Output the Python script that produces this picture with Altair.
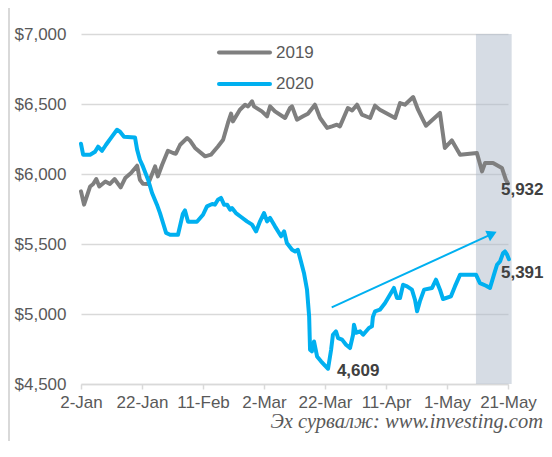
import json
import altair as alt
import pandas as pd

# ---- data ----
days_2019 = [0, 1, 3, 4, 5, 6, 8, 9.5, 11, 13, 14.5, 16.4, 18.4, 19.3, 20.3, 22, 24.3, 25.2, 26.6,
             28.5, 30.2, 31.1, 32.5, 34.8, 35.7, 37.4, 40.7, 42.6, 44.9, 46.6, 48.2, 49.2, 49.8,
             52.1, 53.8, 54.8, 56.1, 56.7, 59.3, 61, 62, 63.6, 66.9, 68.5, 69.2, 70.8, 72.8, 74.4,
             76.7, 78.4, 80.7, 82.3, 83.9, 84.9, 87.5, 88.9, 90.5, 92.1, 94.8, 96.4, 98, 103,
             104.6, 106.2, 108.9, 110.5, 112.1, 113.1, 117.7, 119.3, 121.6, 124.3, 129.8, 131.5,
             132.5, 135.1, 138, 139.3, 140]
values_2019 = [5876, 5781, 5911, 5929, 5964, 5911, 5947, 5929, 5964, 5904, 5971, 6007, 6059, 5959,
               5931, 5929, 6054, 5983, 6066, 6166, 6150, 6145, 6209, 6257, 6240, 6186, 6126, 6138,
               6197, 6245, 6366, 6431, 6376, 6459, 6495, 6483, 6519, 6483, 6447, 6412, 6483, 6447,
               6400, 6471, 6483, 6388, 6412, 6431, 6495, 6400, 6329, 6340, 6352, 6340, 6471, 6454,
               6495, 6424, 6400, 6488, 6459, 6400, 6507, 6495, 6550, 6459, 6388, 6345, 6436, 6186,
               6240, 6138, 6150, 6019, 6079, 6079, 6043, 5959, 5932]

days_2020 = [0, 0.7, 3, 4.6, 5.6, 6.9, 8.2, 10.2, 11.8, 12.8, 14.1, 17.7, 18.4, 19.3, 20.3, 22,
             23.3, 24.9, 25.9, 26.9, 27.9, 29.2, 31.8, 33.4, 34.1, 35.1, 38, 40, 41.3, 43, 43.9,
             44.9, 45.9, 46.9, 47.9, 48.9, 49.5, 50.8, 52.5, 54.4, 56.1, 57.4, 58.7, 60, 61, 62,
             63.6, 65.6, 66.6, 67.5, 69.2, 70.2, 71.1, 72.1, 73.1, 74.1, 74.8, 75.1, 75.7, 76.4,
             77.4, 78.7, 80, 81, 82, 82.6, 83.6, 84.3, 85.6, 86.9, 88.2, 89.2, 89.5, 90.2, 91.5,
             92.5, 94.4, 95.4, 95.7, 96.4, 98, 99.7, 101.3, 102.6, 103.6, 104.6, 105.6, 106.9,
             108.5, 109.5, 110.2, 111.1, 112.5, 115.1, 116.4, 117.7, 118.7, 121.3, 122.6, 124.3,
             129.5, 130.8, 132.8, 134.1, 135.4, 136.4, 137.4, 138.4, 139, 139.7, 140.3]
values_2020 = [6216, 6138, 6138, 6159, 6195, 6166, 6209, 6269, 6316, 6302, 6266, 6261, 6174, 6102,
               6054, 5959, 5864, 5781, 5721, 5650, 5579, 5566, 5566, 5716, 5740, 5659, 5659, 5709,
               5769, 5786, 5781, 5816, 5829, 5781, 5781, 5745, 5757, 5721, 5693, 5662, 5638, 5590,
               5662, 5721, 5662, 5686, 5626, 5555, 5590, 5507, 5459, 5447, 5459, 5376, 5293, 5174,
               4983, 4745, 4733, 4804, 4697, 4662, 4631, 4609, 4745, 4852, 4876, 4828, 4817, 4781,
               4757, 4852, 4924, 4866, 4876, 4852, 4900, 4912, 4979, 5019, 5031, 5079, 5138, 5186,
               5114, 5114, 5209, 5197, 5174, 5102, 5019, 5090, 5174, 5186, 5245, 5174, 5107, 5126,
               5197, 5281, 5281, 5221, 5202, 5186, 5281, 5352, 5376, 5436, 5447, 5424, 5391]

series_names = ["2019", "2020"]
series_colors = ["#7f7f7f", "#00b0f0"]

tick_days = [0, 20, 40, 60, 80, 100, 120, 140]
tick_labels = ["2-Jan", "22-Jan", "11-Feb", "2-Mar", "22-Mar", "11-Apr", "1-May", "21-May"]
y_ticks = [4500, 5000, 5500, 6000, 6500, 7000]

shade_days = [129.5, 141.2]
arrow_days = [82.2, 134.8]
arrow_values = [5047, 5572]

note_texts = ["5,932", "5,391", "4,609"]
note_days = [137.7, 137.7, 83.9]
note_values = [5883, 5293, 4590]

source_text = "Эх сурвалж: www.investing.com"

# ---- tables ----
lines_df = pd.concat([
    pd.DataFrame({"day": days_2019, "value": values_2019, "series": series_names[0]}),
    pd.DataFrame({"day": days_2020, "value": values_2020, "series": series_names[1]}),
])
shade_df = pd.DataFrame({"day": [shade_days[0]], "day2": [shade_days[1]],
                         "value": [y_ticks[0]], "value2": [y_ticks[-1]]})
arrow_df = pd.DataFrame({"day": [arrow_days[0]], "day2": [arrow_days[1]],
                         "value": [arrow_values[0]], "value2": [arrow_values[1]]})
head_df = pd.DataFrame({"day": [arrow_days[1]], "value": [arrow_values[1]]})
notes_df = pd.DataFrame({"day": note_days, "value": note_values, "text": note_texts})

FONT = "Liberation Sans"
label_expr = f"{json.dumps(tick_labels)}[indexof({json.dumps(tick_days)}, datum.value)]"

xscale = alt.Scale(domain=[tick_days[0], tick_days[-1]], nice=False)
yscale = alt.Scale(domain=[y_ticks[0], y_ticks[-1]], nice=False)

x_axis = alt.Axis(values=tick_days, labelExpr=label_expr, grid=False, title=None,
                  tickSize=5, tickColor="#d9d9d9", tickWidth=1.5,
                  domainColor="#d9d9d9", domainWidth=1.5, labelFlush=False, labelOverlap=False,
                  labelColor="#595959", labelFontSize=17, labelFont=FONT, labelPadding=5)
y_axis = alt.Axis(values=y_ticks, format="$,.0f", grid=True, gridColor="#d9d9d9", gridWidth=1.5,
                  domain=False, ticks=False, title=None, labelColor="#595959", labelFontSize=17,
                  labelFont=FONT, labelPadding=15, labelFlush=False, labelOverlap=False)


def X(field="day:Q"):
    return alt.X(field, scale=xscale, axis=x_axis)


def Y(field="value:Q"):
    return alt.Y(field, scale=yscale, axis=y_axis)


shade = alt.Chart(shade_df).mark_rect(fill="#adb9ca", opacity=0.5).encode(
    x=X(), x2="day2:Q", y=Y(), y2="value2:Q")

lines = alt.Chart(lines_df).mark_line(strokeWidth=4, strokeJoin="round", strokeCap="round").encode(
    x=X(), y=Y(),
    color=alt.Color("series:N", scale=alt.Scale(domain=series_names, range=series_colors), legend=None),
    detail="series:N")

arrow = alt.Chart(arrow_df).mark_rule(color=series_colors[1], strokeWidth=2).encode(
    x=X(), x2="day2:Q", y=Y(), y2="value2:Q")

head = alt.Chart(head_df).mark_point(shape="triangle-right", filled=True, size=130, angle=335.4,
                                     color=series_colors[1], opacity=1).encode(
    x=X(), y=Y())

notes = alt.Chart(notes_df).mark_text(align="left", baseline="middle", font=FONT, fontSize=17,
                                      fontWeight="bold", color="#404040").encode(
    x=X(), y=Y(), text="text:N")

legend_layers = []
for i, (name, col) in enumerate(zip(series_names, series_colors)):
    ly = 18.5 + 31.5 * i
    legend_layers.append(
        alt.Chart(pd.DataFrame({"s": [name]})).mark_rule(color=col, strokeWidth=4, strokeCap="round").encode(
            x=alt.value(138), x2=alt.value(189), y=alt.value(ly), y2=alt.value(ly)))
    legend_layers.append(
        alt.Chart(pd.DataFrame({"s": [name]})).mark_text(align="left", baseline="middle", font=FONT,
                                                         fontSize=17, color="#595959").encode(
            x=alt.value(195), y=alt.value(ly), text="s:N"))

source = alt.Chart(pd.DataFrame({"s": [source_text]})).mark_text(
    align="right", baseline="middle", font="Liberation Serif", fontStyle="italic", fontSize=20.5,
    color="#595959").encode(x=alt.value(462), y=alt.value(388), text="s:N")

border = alt.Chart(pd.DataFrame({"s": [0]})).mark_rule(color="#d9d9d9", strokeWidth=2).encode(
    x=alt.value(-72), y=alt.value(-34), y2=alt.value(407))

chart = alt.layer(shade, lines, arrow, head, notes, *legend_layers, source, border).properties(
    width=427, height=350,
    padding={"left": 73, "top": 26, "right": 36, "bottom": 65},
    autosize=alt.AutoSizeParams(type="none"),
    background="white",
).configure_view(stroke=None)

chart.save("out.html", embed_options={"renderer": "svg", "actions": False})
